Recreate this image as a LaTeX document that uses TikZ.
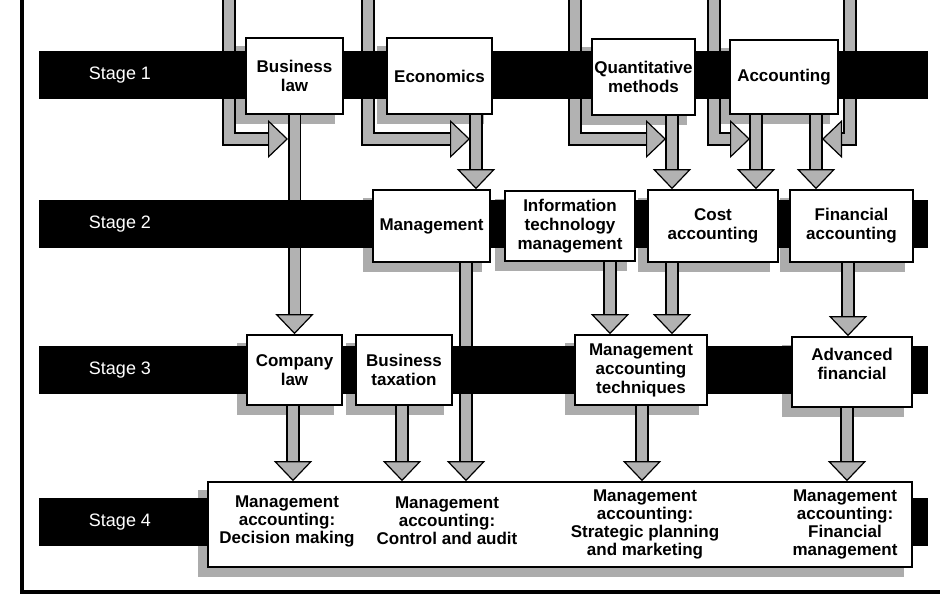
\documentclass[tikz,border=0pt]{standalone}
\usepackage{fontspec}
\setmainfont{Liberation Sans}
\usepackage{tikz}
\usetikzlibrary{arrows.meta}

\pgfdeclarelayer{back}
\pgfdeclarelayer{bars}
\pgfsetlayers{back,bars,main}

\begin{document}
\begin{tikzpicture}[x=0.5pt, y=-0.5pt]

    \tikzstyle{course} = [rectangle, draw=black, line width=0.8pt, fill=white, align=center, inner sep=1pt, font=\fontsize{8.5}{9.5}\selectfont\bfseries]
    \tikzstyle{option} = [align=center, inner sep=0pt, font=\fontsize{8.5}{9}\selectfont\bfseries]
    \tikzstyle{stagebar} = [rectangle, fill=black, minimum width=444.5pt, minimum height=24pt, inner sep=0pt]
    \tikzstyle{stagelabel} = [text=white, inner sep=0pt, font=\fontsize{9}{10}\selectfont]
    \tikzstyle{shadowfill} = [fill=gray!65]
    \tikzstyle{flow} = [draw=gray!60, line width=5pt, -{Triangle[width=19pt, length=10pt, line width=0.6pt, color=black, fill=gray!60]}, preaction={draw=black, line width=6.6pt, -, shorten >=9pt}]

    \useasboundingbox (0,0) rectangle (940,603);

    % frame
    \draw[line width=1.6pt] (22,0) -- (22,592) -- (940,592);

    \begin{pgfonlayer}{bars}
    \node[stagebar] (s1) at (483.5,75) {};
    \node[stagebar] (s2) at (483.5,224) {};
    \node[stagebar] (s3) at (483.5,370) {};
    \node[stagebar] (s4) at (483.5,522) {};
    \end{pgfonlayer}

    \node[stagelabel] (l1) at (120,75)  {Stage 1};
    \node[stagelabel] (l2) at (120,224) {Stage 2};
    \node[stagelabel] (l3) at (120,370) {Stage 3};
    \node[stagelabel] (l4) at (120,522) {Stage 4};

    % stage 1
    \node[course, minimum width=48.5pt, minimum height=38pt] (blaw)  at (294.5,76) {Business\\law};
    \node[course, minimum width=52.5pt, minimum height=38pt] (econ)  at (439.5,76) {Economics};
    \node[course, minimum width=51.5pt, minimum height=38pt] (quant) at (643.5,77) {Quantitative\\methods};
    \node[course, minimum width=54pt,   minimum height=37pt] (acct)  at (784,77)   {Accounting};

    % stage 2
    \node[course, minimum width=58.5pt, minimum height=36pt] (mgmt) at (431.5,226) {Management};
    \node[course, minimum width=65pt,   minimum height=35pt] (itm)  at (570,226)   {Information\\technology\\management};
    \node[course, minimum width=65pt,   minimum height=36pt] (cost) at (713,226)   {Cost\\accounting};
    \node[course, minimum width=61.5pt, minimum height=36pt] (fin)  at (851.5,226) {Financial\\accounting};

    % stage 3
    \node[course, minimum width=47.5pt, minimum height=35pt] (claw) at (294.5,370) {Company\\law};
    \node[course, minimum width=48pt,   minimum height=35pt] (btax) at (404,370)   {Business\\taxation};
    \node[course, minimum width=66pt,   minimum height=35pt] (mat)  at (641,370)   {Management\\accounting\\techniques};
    \node[course, minimum width=60pt,   minimum height=35pt, text depth=8pt] (adv) at (852,372) {Advanced\\financial};

    % stage 4
    \node[course, minimum width=352pt, minimum height=42.5pt] (mbox) at (560,524.5) {};
    \node[option] (dm) at (287,521) {Management\\accounting:\\Decision making};
    \node[option] (ca) at (447,521) {Management\\accounting:\\Control and audit};
    \node[option] (sp) at (645,524) {Management\\accounting:\\Strategic planning\\and marketing};
    \node[option] (fm) at (845,524) {Management\\accounting:\\Financial\\management};

    \coordinate (t1) at (229,0);
    \coordinate (t2) at (368,0);
    \coordinate (t3) at (575,0);
    \coordinate (t4) at (714,0);
    \coordinate (t5) at (850,0);
    \coordinate (j1) at (288,139);
    \coordinate (j2) at (470,139);
    \coordinate (j3) at (666,139);
    \coordinate (j4) at (750,139);
    \coordinate (j5) at (822,139);

    \begin{pgfonlayer}{back}
    \foreach \n in {blaw,econ,quant,acct,mgmt,itm,cost,fin,claw,btax,mat,adv,mbox}
        \fill[shadowfill] ([shift={(-4.5pt,-4.5pt)}]\n.south west) rectangle ([shift={(-4.5pt,-4.5pt)}]\n.north east);

    \draw[flow] (t1) |- (j1);
    \draw[flow] (t2) |- (j2);
    \draw[flow] (t3) |- (j3);
    \draw[flow] (t4) |- (j4);
    \draw[flow] (t5) |- (j5);

    \draw[flow] (blaw) -- (claw);
    \draw[flow] ([xshift=18.25pt]econ.south) -- ([xshift=22.25pt]mgmt.north);
    \draw[flow] ([xshift=14.25pt]quant.south) -- ([xshift=-20.5pt]cost.north);
    \draw[flow] ([xshift=-14pt]acct.south) -- ([xshift=21.5pt]cost.north);
    \draw[flow] ([xshift=16pt]acct.south) -- ([xshift=-17.75pt]fin.north);

    \draw[flow] ([xshift=17.25pt]mgmt.south) -- ([xshift=-47pt]mbox.north);
    \draw[flow] ([xshift=20pt]itm.south) -- ([xshift=-15.5pt]mat.north);
    \draw[flow] ([xshift=-20.5pt]cost.south) -- ([xshift=15.5pt]mat.north);
    \draw[flow] ([xshift=-1.75pt]fin.south) -- ([xshift=-2pt]adv.north);

    \draw[flow] ([xshift=-0.75pt]claw.south) -- ([xshift=-133.5pt]mbox.north);
    \draw[flow] ([xshift=-1pt]btax.south) -- ([xshift=-79pt]mbox.north);
    \draw[flow] ([xshift=0.5pt]mat.south) -- ([xshift=41pt]mbox.north);
    \draw[flow] ([xshift=-2.5pt]adv.south) -- ([xshift=143.5pt]mbox.north);
    \end{pgfonlayer}

\end{tikzpicture}
\end{document}
